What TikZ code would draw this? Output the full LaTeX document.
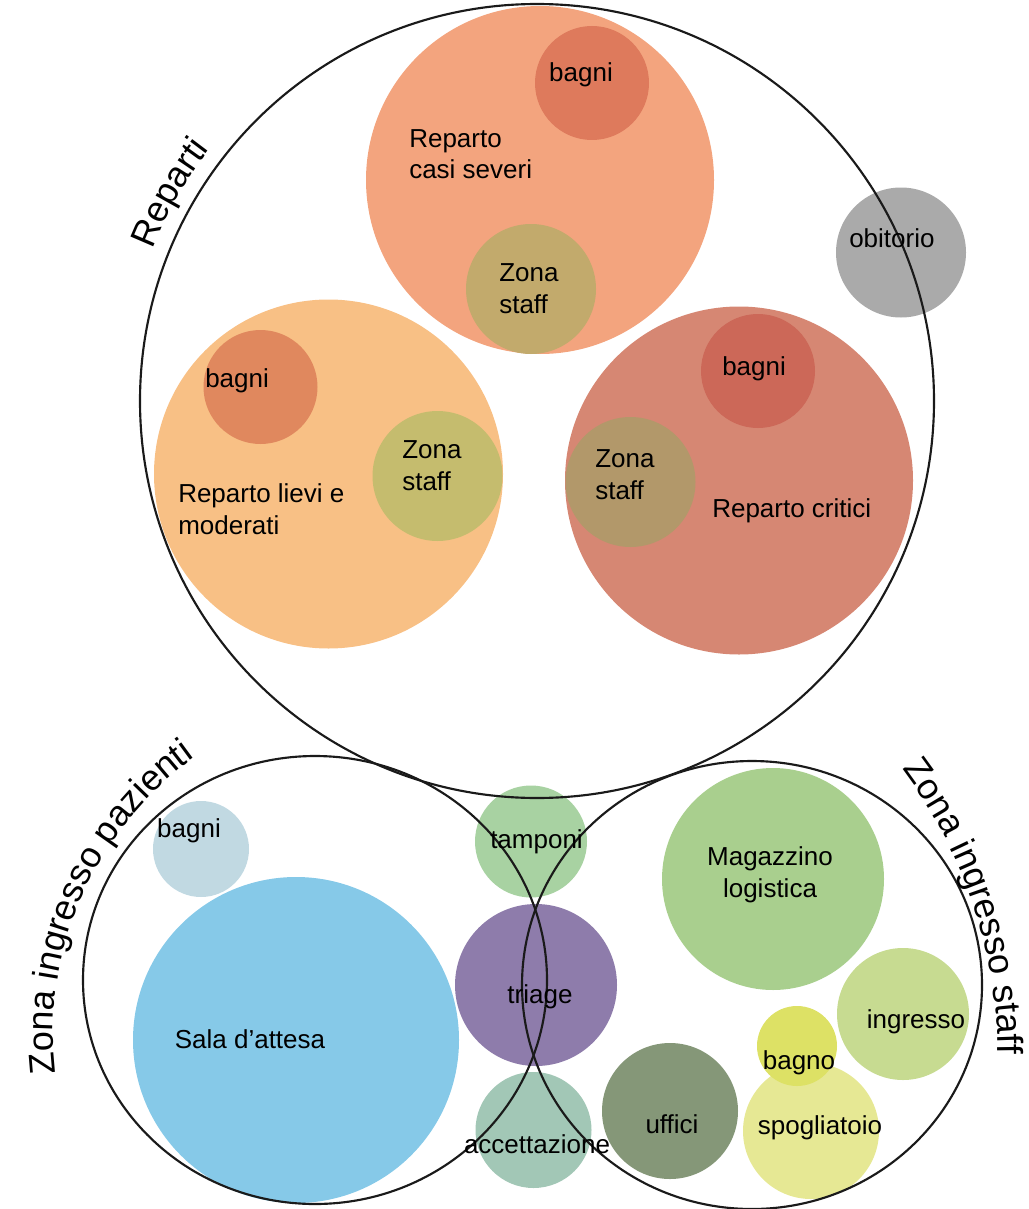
\documentclass[tikz,border=0pt]{standalone}
\usepackage{fontspec}
\setmainfont{Liberation Sans}
\usetikzlibrary{decorations.text}
\definecolor{severi}{HTML}{F3A47E}
\definecolor{severibagni}{HTML}{DE7A5C}
\definecolor{severistaff}{HTML}{C2AA6C}
\definecolor{lievi}{HTML}{F8C085}
\definecolor{lievibagni}{HTML}{E0885E}
\definecolor{lievistaff}{HTML}{C5BC6E}
\definecolor{critici}{HTML}{D68773}
\definecolor{criticibagni}{HTML}{CC6858}
\definecolor{criticistaff}{HTML}{B2986A}
\definecolor{obitorio}{HTML}{AAAAAA}
\definecolor{pazbagni}{HTML}{C1D9E2}
\definecolor{attesa}{HTML}{86C9E8}
\definecolor{tamponi}{HTML}{A8D2A2}
\definecolor{triage}{HTML}{8E7CAB}
\definecolor{accett}{HTML}{A2C7B6}
\definecolor{magazzino}{HTML}{A9CF8E}
\definecolor{ingresso}{HTML}{C7DB91}
\definecolor{bagno}{HTML}{DDE165}
\definecolor{spogliatoio}{HTML}{E6E894}
\definecolor{uffici}{HTML}{859778}
\definecolor{contorno}{HTML}{1A1A1A}

\begin{document}
\begin{tikzpicture}[x=0.75pt,y=0.75pt,
    bordo/.style={draw=contorno,line width=1.6pt},
    etichetta/.style={font=\fontsize{19.5}{24}\selectfont,inner sep=0pt},
    titolo/.style={decorate,decoration={text along path,text align=left,
        text={|\fontsize{27}{30}\selectfont|#1}}}]
    \useasboundingbox (0,0) rectangle (1028,-1209);
    % --- reparti ---
    \fill[severi] (540,-180) circle[radius=174];
    \fill[severibagni] (592,-83) circle[radius=57];
    \fill[severistaff] (531,-289) circle[radius=65];
    \fill[lievi] (328.5,-474) circle[radius=174.5];
    \fill[lievibagni] (260.5,-387) circle[radius=57];
    \fill[lievistaff] (437.5,-476) circle[radius=65];
    \fill[critici] (739,-480.5) circle[radius=174];
    \fill[criticibagni] (758,-371) circle[radius=57];
    \fill[criticistaff] (630.5,-482) circle[radius=65];
    \fill[obitorio] (901,-252.5) circle[radius=65];
    % --- zona ingresso pazienti ---
    \fill[pazbagni] (201,-849) circle[radius=48];
    \fill[attesa] (296,-1040) circle[radius=163];
    % --- corridoio centrale ---
    \fill[tamponi] (531,-841.5) circle[radius=56];
    \fill[triage] (536,-985) circle[radius=81];
    \fill[accett] (533.5,-1130) circle[radius=58];
    % --- zona ingresso staff ---
    \fill[magazzino] (773,-879) circle[radius=111];
    \fill[ingresso] (903,-1014) circle[radius=66];
    \fill[spogliatoio] (811,-1131) circle[radius=68];
    \fill[bagno] (797,-1046) circle[radius=40];
    \fill[uffici] (670,-1111) circle[radius=68];
    % --- contorni delle zone ---
    \draw[bordo] (537,-401) circle[radius=397];
    \draw[bordo] (315,-980) ellipse[x radius=232,y radius=224];
    \draw[bordo] (752,-985) ellipse[x radius=230,y radius=224];
    % --- titoli ad arco ---
    \path[titolo=Reparti] (537,-401) ++(158.5:413)
        arc[start angle=158.5,end angle=120,radius=413];
    \path[titolo=Zona ingresso pazienti] (393,-1034) ++(186.6:340)
        arc[start angle=186.6,end angle=100,radius=340];
    \path[titolo=Zona ingresso staff] (521,-1056) ++(37:477)
        arc[start angle=37,end angle=-15,radius=477];
    % --- etichette ---
    \node[etichetta,anchor=base] (sbagni) at (581,-82) {bagni};
    \node[etichetta,anchor=base west,align=left] (sreparto) at (409,-179) {Reparto\\casi severi};
    \node[etichetta,anchor=base west,align=left] (sstaff) at (499,-313) {Zona\\staff};
    \node[etichetta,anchor=base west] (lbagni) at (205,-387) {bagni};
    \node[etichetta,anchor=base west,align=left] (lstaff) at (402,-490) {Zona\\staff};
    \node[etichetta,anchor=base west,align=left] (lreparto) at (178,-534) {Reparto lievi e\\moderati};
    \node[etichetta,anchor=base west] (cbagni) at (722,-375) {bagni};
    \node[etichetta,anchor=base west,align=left] (cstaff) at (595,-499) {Zona\\staff};
    \node[etichetta,anchor=base west] (creparto) at (712,-517) {Reparto critici};
    \node[etichetta,anchor=base west] (obit) at (849,-247) {obitorio};
    \node[etichetta,anchor=base] (pbagni) at (189,-837) {bagni};
    \node[etichetta,anchor=base] (attesa) at (250,-1048) {Sala d’attesa};
    \node[etichetta,anchor=base] (tamp) at (536.5,-848) {tamponi};
    \node[etichetta,anchor=base] (triage) at (540,-1003) {triage};
    \node[etichetta,anchor=base] (accett) at (537,-1153) {accettazione};
    \node[etichetta,anchor=base,align=center] (magaz) at (770,-897) {Magazzino\\logistica};
    \node[etichetta,anchor=base] (ingr) at (916,-1028) {ingresso};
    \node[etichetta,anchor=base] (bagno) at (799,-1069) {bagno};
    \node[etichetta,anchor=base] (spogl) at (820,-1134) {spogliatoio};
    \node[etichetta,anchor=base] (uffici) at (672,-1133) {uffici};
\end{tikzpicture}
\end{document}
